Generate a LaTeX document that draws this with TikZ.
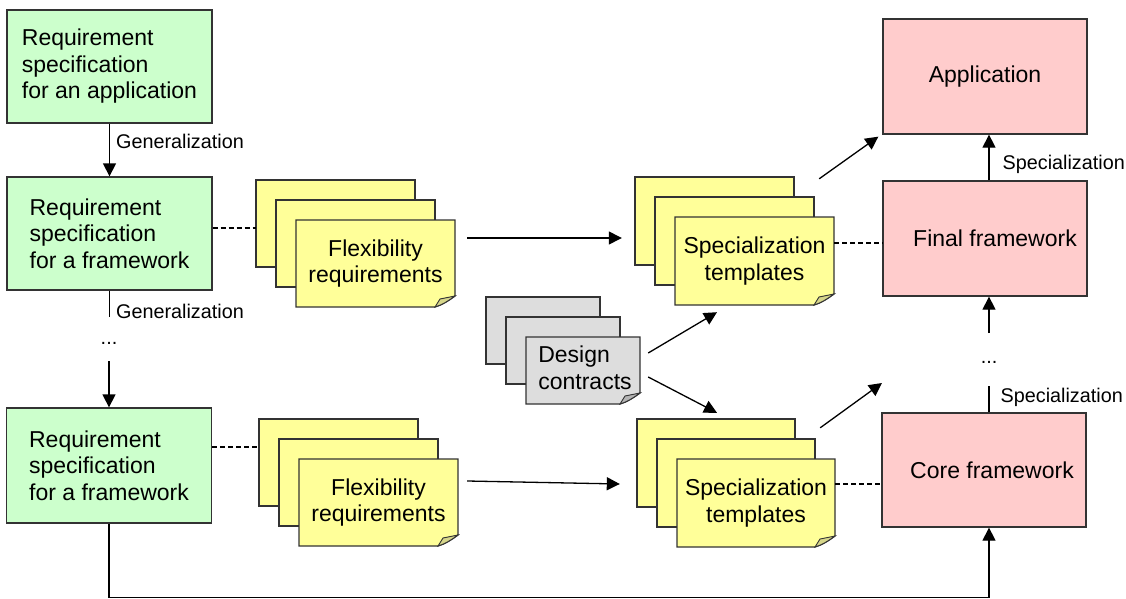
\documentclass[tikz,border=0pt]{standalone}
\usepackage{fontspec}
\setmainfont{Liberation Sans}
\usetikzlibrary{arrows.meta,calc}

\definecolor{reqgreen}{HTML}{CCFFCC}
\definecolor{prodpink}{HTML}{FFCCCC}
\definecolor{noteyellow}{HTML}{FFFF99}
\definecolor{notefoldy}{HTML}{D6D68A}
\definecolor{notegray}{HTML}{DDDDDD}
\definecolor{notefoldg}{HTML}{B4B4B4}
\definecolor{edge}{HTML}{333333}

\tikzset{
  bigtext/.style={font=\fontsize{23}{26.5}\selectfont},
  lab/.style={font=\fontsize{19.8}{23}\selectfont, inner sep=0pt},
  reqbox/.style={draw=edge, line width=1.3pt, fill=reqgreen, bigtext, align=left,
    minimum width=205pt, minimum height=113pt, inner sep=0pt},
  prodbox/.style={draw=edge, line width=1.3pt, fill=prodpink, bigtext, align=center,
    minimum width=204pt, minimum height=115pt, inner sep=0pt},
  sheet/.style={draw=edge, line width=1.3pt},
  sheettext/.style={bigtext, align=center, inner sep=0pt},
  arr/.style={line width=1.3pt, -{Triangle[length=13pt,width=13pt]}},
  plain/.style={line width=1.3pt},
  dashln/.style={line width=1.3pt, dash pattern=on 5pt off 3pt},
}

% A stack of three note sheets; the front one has a curled corner.
% #1 name, #2 left, #3 top, #4 width, #5 height, #6 fill, #7 fold colour, #8 text
\newcommand\sheetstack[8]{%
  \foreach \k in {0,1}{
    \draw[sheet, fill=#6] (#2+20*\k, #3+20*\k) rectangle ++(#4, #5);
  }
  \draw[sheet, fill=#6] (#2+40, #3+40) -- ++(#4, 0) -- ++(0, #5-11)
    .. controls +(-7, 5) and +(7, -2) .. ++(-20, 11) -- (#2+40, #3+40+#5) -- cycle;
  \filldraw[sheet, fill=#7, line width=0.9pt] (#2+40+#4, #3+40+#5-11) -- (#2+40+#4-15, #3+40+#5-8)
    -- (#2+40+#4-20, #3+40+#5) .. controls +(7, -2) and +(-7, 5) .. cycle;
  \node[sheettext, minimum width=#4, minimum height=#5] (#1)
    at (#2+40+#4/2, #3+40+#5/2) {#8};
}

\begin{document}
\begin{tikzpicture}[x=1pt, y=-1pt]
\useasboundingbox (0,0) rectangle (1126,599);

% requirement specifications
\node[reqbox] (g1) at (109.5, 66.5) {Requirement\\specification\\for an application};
\node[reqbox] (g2) at (109.5, 233.5) {Requirement\\specification\\for a framework};
\node[reqbox, minimum height=115pt] (g3) at (109, 465.5) {Requirement\\specification\\for a framework};

% products
\node[prodbox] (app) at (985, 76.5) {Application};
\node[prodbox] (final) at (985, 238.5) {\hspace*{20pt}Final framework};
\node[prodbox, minimum height=114pt] (core) at (984, 470) {\hspace*{16pt}Core framework};

% note stacks
\sheetstack{flexA}{256}{180}{159}{87}{noteyellow}{notefoldy}{Flexibility\\requirements}
\sheetstack{flexB}{259}{419}{159}{87}{noteyellow}{notefoldy}{Flexibility\\requirements}
\sheetstack{specA}{635}{177}{159}{88}{noteyellow}{notefoldy}{Specialization\\templates}
\sheetstack{specB}{637}{419}{158}{88}{noteyellow}{notefoldy}{Specialization\\templates}
\sheetstack{design}{486}{297}{114}{67}{notegray}{notefoldg}{\hspace*{4pt}\begin{tabular}{@{}l@{}}Design\\contracts\end{tabular}}

% ellipses
\node[lab] (dotsL) at (109, 343) {...};
\node[lab] (dotsR) at (989, 362) {...};
\coordinate (coreOut) at (882, 383);

% generalization chain
\draw[arr] (g1.south) -- (g2.north)
  node[lab, pos=0.33, anchor=west, xshift=6pt] {Generalization};
\draw[plain] (g2.south) -- ++(0, 26)
  node[lab, pos=0.8, anchor=west, xshift=6pt] {Generalization};
\draw[arr] ($(dotsL)+(0,18)$) -- (g3.north);
\draw[arr] (g3.south) -- ++(0, 74) -| (dotsR |- core.south);

% specialization chain
\draw[arr] (dotsR |- final.north) -- (dotsR |- app.south)
  node[lab, pos=0.36, anchor=west, xshift=13pt] {Specialization};
\draw[arr] ($(dotsR)+(0,-29)$) -- (dotsR |- final.south);
\draw[plain] (dotsR |- core.north) -- ($(dotsR)+(0,24)$)
  node[lab, pos=0.55, anchor=west, xshift=11pt] {Specialization};

% dashed associations
\draw[dashln] ($(g2.east)+(0,-5.5)$) -- ($(flexA.west)+(-40,-35.5)$);
\draw[dashln] ($(g3.east)+(0,-18.5)$) -- ($(flexB.west)+(-40,-55.5)$);
\draw[dashln] ($(specA.east)+(0,-18)$) -- ($(final.west)+(0,4.5)$);
\draw[dashln] ($(specB.east)+(0,-19)$) -- ($(core.west)+(0,14)$);

% flows between stacks
\draw[arr] ($(flexA.east)+(12,-25.5)$) -- ($(specA.west)+(-53,-23)$);
\draw[arr] ($(flexB.east)+(9,-21.5)$) -- ($(specB.west)+(-57,-19)$);
\draw[arr] ($(design.east)+(8,-17.5)$) -- ($(specA.south)+(-37.5,7)$);
\draw[arr] ($(design.east)+(8,6.5)$) -- ($(specB.north)+(-39,-46)$);
\draw[arr] ($(specA.north east)+(-15,-38)$) -- ($(app.south west)+(-4,2)$);
\draw[arr] ($(specB.north east)+(-15,-31)$) -- (coreOut);
\end{tikzpicture}
\end{document}
